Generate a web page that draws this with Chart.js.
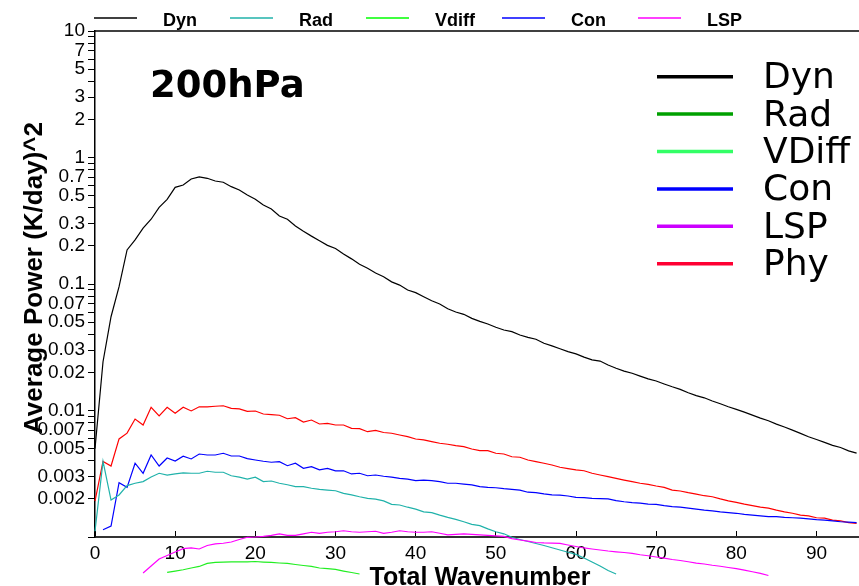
<!DOCTYPE html>
<html>
<head>
<meta charset="utf-8">
<script src="https://cdn.jsdelivr.net/npm/chart.js@4.4.0/dist/chart.umd.min.js"></script>
<style>
  html, body { margin: 0; padding: 0; background: #fff; }
  #wrap { width: 859px; height: 586px; position: relative; }
</style>
</head>
<body>
<div id="wrap"><canvas id="chart"></canvas></div>
<script>
// --- Data ---
const wavenumber = [0,1,2,3,4,5,6,7,8,9,10,11,12,13,14,15,16,17,18,19,20,21,22,23,24,25,26,27,28,29,
  30,31,32,33,34,35,36,37,38,39,40,41,42,43,44,45,46,47,48,49,50,51,52,53,54,55,56,57,58,59,
  60,61,62,63,64,65,66,67,68,69,70,71,72,73,74,75,76,77,78,79,80,81,82,83,84,85,86,87,88,89,
  90,91,92,93,94,95];

const dyn = [0.005,0.0243,0.0551,0.0952,0.186,0.223,0.276,0.325,0.404,0.467,
  0.581,0.606,0.676,0.702,0.685,0.652,0.637,0.588,0.553,0.505,
  0.467,0.421,0.392,0.345,0.325,0.287,0.261,0.239,0.220,0.202,
  0.191,0.173,0.158,0.143,0.133,0.122,0.114,0.104,0.098,0.0897,
  0.0854,0.0794,0.0738,0.0695,0.0638,0.0601,0.0576,0.0535,0.0507,0.0483,
  0.0455,0.0433,0.0420,0.0395,0.0379,0.0366,0.0340,0.0324,0.0308,0.0292,
  0.0280,0.0264,0.0251,0.0246,0.0229,0.0216,0.0205,0.0197,0.0187,0.0178,
  0.0171,0.0162,0.0154,0.0147,0.0138,0.0131,0.0126,0.0119,0.0113,0.0107,
  0.0102,0.0097,0.0092,0.0087,0.0083,0.0078,0.0074,0.0070,0.0066,0.0062,
  0.0059,0.0056,0.0053,0.0051,0.0048,0.0046];

const phy = [0.00192,0.00396,0.00364,0.00596,0.00662,0.00856,0.00768,0.0106,0.00906,0.0106,
  0.00951,0.0106,0.00992,0.0107,0.0107,0.0108,0.0109,0.0104,0.0103,0.00986,
  0.00991,0.00938,0.00927,0.00917,0.00861,0.00877,0.00811,0.00841,0.00782,0.00792,
  0.00768,0.00768,0.00723,0.00718,0.00680,0.00697,0.00670,0.00661,0.00640,0.00621,
  0.00595,0.00585,0.00567,0.00551,0.00541,0.00527,0.00518,0.00496,0.00481,0.00481,
  0.00459,0.00453,0.00431,0.00427,0.00406,0.00394,0.00383,0.00371,0.00356,0.00347,
  0.00339,0.00334,0.00319,0.00309,0.00300,0.00291,0.00282,0.00274,0.00266,0.00261,
  0.00253,0.00247,0.00235,0.00231,0.00224,0.00218,0.00212,0.00208,0.00200,0.00193,
  0.00188,0.00182,0.00177,0.00172,0.00169,0.00163,0.00158,0.00154,0.00149,0.00147,
  0.00142,0.00141,0.00136,0.00134,0.00130,0.00128];

const con = [null,0.00114,0.00122,0.00269,0.00247,0.00383,0.00319,0.00445,0.00364,0.00421,
  0.00399,0.00435,0.00414,0.00453,0.00445,0.00445,0.00459,0.00437,0.00437,0.00416,
  0.00406,0.00397,0.00390,0.00394,0.00366,0.00383,0.00349,0.00360,0.00339,0.00349,
  0.00333,0.00334,0.00315,0.00319,0.00305,0.00309,0.00302,0.00297,0.00291,0.00287,
  0.00279,0.00282,0.00279,0.00274,0.00266,0.00266,0.00262,0.00258,0.00250,0.00247,
  0.00245,0.00241,0.00238,0.00235,0.00226,0.00224,0.00219,0.00215,0.00214,0.00211,
  0.00206,0.00205,0.00202,0.00201,0.00200,0.00194,0.00190,0.00187,0.00185,0.00182,
  0.00181,0.00177,0.00174,0.00172,0.00169,0.00166,0.00163,0.00161,0.00158,0.00156,
  0.00154,0.00151,0.00149,0.00147,0.00145,0.00145,0.00143,0.00142,0.00141,0.00139,
  0.00137,0.00136,0.00134,0.00132,0.00131,0.00130];

const rad = [0.00111,0.00396,0.00196,0.00215,0.00255,0.00266,0.00274,0.00298,0.00319,0.00309,
  0.00316,0.00321,0.00319,0.00319,0.00331,0.00325,0.00325,0.00305,0.00297,0.00287,
  0.00297,0.00274,0.00277,0.00266,0.00259,0.00250,0.00250,0.00243,0.00238,0.00235,
  0.00232,0.00221,0.00215,0.00208,0.00202,0.00199,0.00193,0.00181,0.00179,0.00172,
  0.00166,0.00158,0.00156,0.00149,0.00143,0.00138,0.00132,0.00126,0.00123,0.00116,
  0.00110,0.00106,0.000995,0.000956,0.000921,0.000889,0.000857,0.000822,0.000789,0.000758,
  0.000728,0.000683,0.000634,0.000590,0.000543,0.000510];

const lsp = [null,null,null,null,null,null,0.000520,0.000590,0.000670,0.000715,
  0.000761,0.000808,0.000819,0.000804,0.000857,0.000881,0.000892,0.000913,0.000955,0.000995,
  0.00100,0.00101,0.00103,0.00106,0.00103,0.00103,0.00106,0.00109,0.00107,0.00109,
  0.00110,0.00112,0.00110,0.00109,0.00110,0.00111,0.00107,0.00109,0.00112,0.00110,
  0.00109,0.00109,0.00110,0.00107,0.00104,0.00105,0.00106,0.00105,0.00104,0.00103,
  0.00102,0.00101,0.000970,0.000947,0.000927,0.000905,0.000897,0.000894,0.000889,0.000865,
  0.000841,0.000819,0.000804,0.000789,0.000775,0.000764,0.000754,0.000741,0.000724,0.000711,
  0.000695,0.000681,0.000664,0.000652,0.000637,0.000622,0.000612,0.000598,0.000587,0.000574,
  0.000562,0.000548,0.000531,0.000515,0.000496];

const vdiff = [null,null,null,null,null,null,null,null,null,0.000526,
  0.000538,0.000551,0.000569,0.000585,0.000618,0.000629,0.000634,0.000637,0.000637,0.000637,
  0.000640,0.000634,0.000629,0.000623,0.000619,0.000606,0.000595,0.000585,0.000569,0.000562,
  0.000554,0.000538,0.000524,0.000510];

const xTicks = [0,10,20,30,40,50,60,70,80,90];
const yTicks = [0.001,0.002,0.003,0.004,0.005,0.006,0.007,0.008,0.009,
  0.01,0.02,0.03,0.04,0.05,0.06,0.07,0.08,0.09,
  0.1,0.2,0.3,0.4,0.5,0.6,0.7,0.8,0.9,
  1,2,3,4,5,6,7,8,9,10];
const yLabeled = [0.002,0.003,0.005,0.007,0.01,0.02,0.03,0.05,0.07,
  0.1,0.2,0.3,0.5,0.7,1,2,3,5,7,10];

const xTitle = 'Total Wavenumber';
const yTitle = 'Average Power (K/day)^2';
const levelLabel = '200hPa';

// top key (matches the drawn line colours)
const topKeyNames  = ['Dyn', 'Rad', 'Vdiff', 'Con', 'LSP'];
const topKeyColors = ['#000000', '#20b2aa', '#00ff00', '#0000ff', '#ff00ff'];

// big key inside the plot
const keyNames  = ['Dyn', 'Rad', 'VDiff', 'Con', 'LSP', 'Phy'];
const keyColors = ['#000000', '#00a000', '#33ff66', '#0000ff', '#cc00ff', '#ff0033'];

// --- Helpers ---
function points(series) {
  const out = [];
  series.forEach((v, i) => {
    if (v !== null && v !== undefined) out.push({ x: wavenumber[i], y: v });
  });
  return out;
}

function line(data, color) {
  return {
    data: points(data),
    borderColor: color,
    borderWidth: 1.2,
    pointRadius: 0,
    tension: 0,
    fill: false,
    clip: false,
  };
}

// --- Overlay: frame top, titles, keys ---
const overlay = {
  id: 'overlay',
  afterDraw(chart) {
    const ctx = chart.ctx;
    const a = chart.chartArea;
    ctx.save();

    ctx.strokeStyle = '#000';
    ctx.lineWidth = 1.5;
    ctx.beginPath();
    ctx.moveTo(a.left, a.top);
    ctx.lineTo(a.right, a.top);
    ctx.stroke();

    ctx.fillStyle = '#000';
    ctx.textBaseline = 'alphabetic';

    // x title
    ctx.font = 'bold 25px "Liberation Sans"';
    ctx.textAlign = 'center';
    ctx.fillText(xTitle, 480, 585);

    // y title
    ctx.save();
    ctx.translate(42, 278);
    ctx.rotate(-Math.PI / 2);
    ctx.font = 'bold 26px "Liberation Sans"';
    ctx.fillText(yTitle, 0, 0);
    ctx.restore();

    // level label
    ctx.textAlign = 'left';
    ctx.font = 'bold 37px "DejaVu Sans"';
    ctx.fillText(levelLabel, 150, 97);

    // top key
    ctx.font = 'bold 18px "Liberation Sans"';
    ctx.lineWidth = 1.6;
    topKeyNames.forEach((name, i) => {
      const x0 = 94 + 136 * i;
      ctx.strokeStyle = topKeyColors[i];
      ctx.beginPath();
      ctx.moveTo(x0, 18);
      ctx.lineTo(x0 + 43, 18);
      ctx.stroke();
      ctx.fillText(name, x0 + 69, 26);
    });

    // inner key
    ctx.font = '36px "DejaVu Sans"';
    ctx.lineWidth = 3.5;
    keyNames.forEach((name, i) => {
      const y = 76.7 + 37.4 * i;
      ctx.strokeStyle = keyColors[i];
      ctx.beginPath();
      ctx.moveTo(657, y);
      ctx.lineTo(733, y);
      ctx.stroke();
      ctx.fillText(name, 763, y + 11.5);
    });

    ctx.restore();
  }
};

// --- Chart ---
new Chart(document.getElementById('chart'), {
  type: 'line',
  data: {
    datasets: [
      line(vdiff, '#22ee22'),
      line(lsp,   '#ff00ff'),
      line(rad,   '#20b2aa'),
      line(con,   '#0000ff'),
      line(phy,   '#ff0000'),
      line(dyn,   '#000000'),
    ]
  },
  options: {
    responsive: true,
    maintainAspectRatio: false,
    animation: false,
    layout: { padding: { top: 31, right: 0, left: 0, bottom: 0 } },
    plugins: { legend: { display: false }, tooltip: { enabled: false } },
    scales: {
      x: {
        type: 'linear',
        min: 0,
        max: 95.3,
        afterBuildTicks: s => { s.ticks = xTicks.map(v => ({ value: v })); },
        afterFit: s => { s.height = 49; },
        grid: { drawOnChartArea: false, drawTicks: true, tickLength: -6, color: '#000', lineWidth: 1 },
        border: { color: '#333', width: 2 },
        ticks: {
          color: '#000',
          font: { family: 'Liberation Sans', size: 19 },
          padding: 11,
          maxRotation: 0,
          autoSkip: false,
        }
      },
      y: {
        type: 'logarithmic',
        min: 0.001,
        max: 10,
        afterBuildTicks: s => { s.ticks = yTicks.map(v => ({ value: v })); },
        afterFit: s => { s.width = 95; },
        grid: { drawOnChartArea: false, drawTicks: true, tickLength: 7, color: '#000', lineWidth: 1 },
        border: { color: '#000', width: 1.5 },
        ticks: {
          color: '#000',
          font: { family: 'Liberation Sans', size: 19 },
          padding: 3,
          autoSkip: false,
          callback: v => yLabeled.includes(v) ? String(v) : '',
        }
      }
    }
  },
  plugins: [overlay]
});
</script>
</body>
</html>
